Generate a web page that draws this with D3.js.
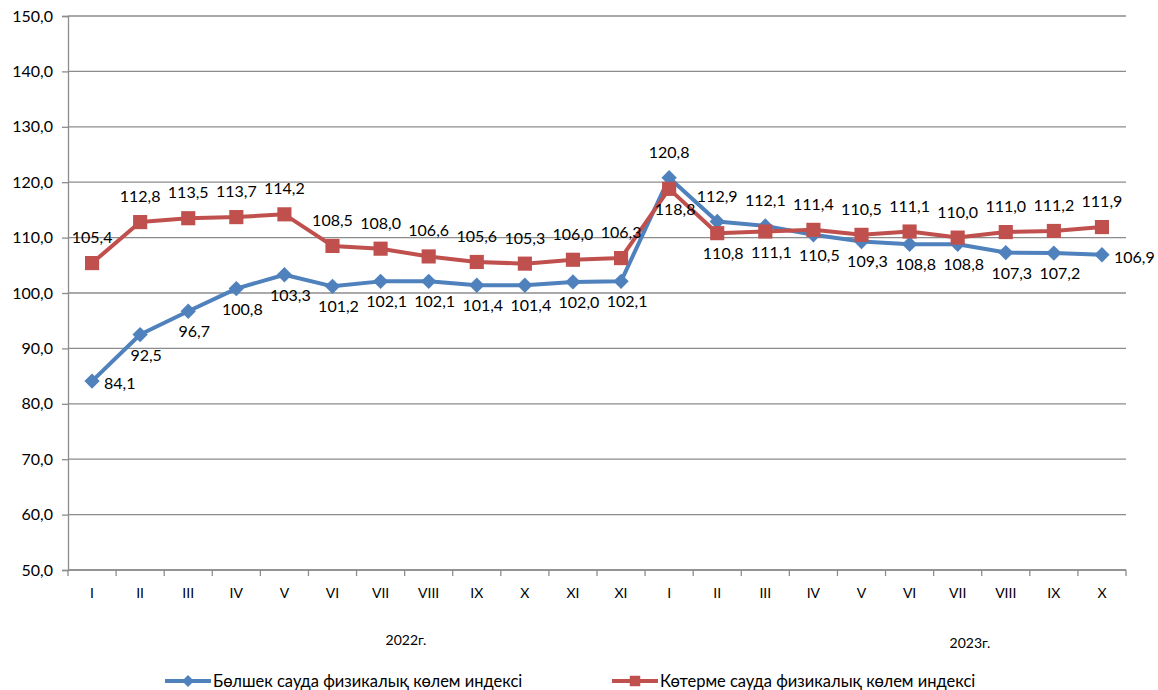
<!DOCTYPE html>
<html>
<head>
<meta charset="utf-8">
<script src="https://cdn.jsdelivr.net/npm/d3@7"></script>
<style>
  body { margin: 0; background: #fff; }
  text { font-family: Lato, "Open Sans", sans-serif; fill: #000; }
</style>
</head>
<body>
<div id="chart"></div>
<script>
// months, 2022 then 2023 (the source repeats "XI" for December)
const months = ["I","II","III","IV","V","VI","VII","VIII","IX","X","XI","XI",
                "I","II","III","IV","V","VI","VII","VIII","IX","X"];
const retail = [84.1,92.5,96.7,100.8,103.3,101.2,102.1,102.1,101.4,101.4,102.0,102.1,
                120.8,112.9,112.1,110.5,109.3,108.8,108.8,107.3,107.2,106.9];
const wholesale = [105.4,112.8,113.5,113.7,114.2,108.5,108.0,106.6,105.6,105.3,106.0,106.3,
                   118.8,110.8,111.1,111.4,110.5,111.1,110.0,111.0,111.2,111.9];
const yTicks = [50,60,70,80,90,100,110,120,130,140,150];
const years = ["2022г.", "2023г."];
const seriesNames = ["Бөлшек сауда физикалық көлем индексі", "Көтерме сауда физикалық көлем индексі"];

const W = 1158, H = 690;
const plotL = 68, plotR = 1126, plotT = 16, plotB = 570;
const blue = "#4F81BD", red = "#C0504D", grid = "#8c8c8c";
const fmt = v => v.toFixed(1).replace(".", ",");

const svg = d3.select("#chart").append("svg")
    .attr("width", W).attr("height", H);

const x = d3.scaleBand().domain(d3.range(months.length)).range([plotL, plotR]);
const y = d3.scaleLinear().domain([50, 150]).range([plotB, plotT]);
const cx = i => x(i) + x.bandwidth() / 2;
const last = months.length - 1;

//gridlines
svg.append("g").selectAll("line").data(yTicks).join("line")
    .attr("x1", plotL).attr("x2", plotR)
    .attr("y1", d => y(d)).attr("y2", d => y(d))
    .attr("stroke", grid).attr("stroke-width", 1.3);

//y axis
const yAxis = svg.append("g").attr("transform", `translate(${plotL},0)`)
    .call(d3.axisLeft(y).tickValues(yTicks).tickSize(6).tickPadding(9).tickFormat(fmt));
yAxis.select(".domain").attr("stroke", grid).attr("stroke-width", 1.3);
yAxis.selectAll(".tick line").attr("stroke", grid).attr("stroke-width", 1.3);
yAxis.selectAll("text").attr("font-size", 16).attr("font-family", "Lato, sans-serif");

//x axis: ticks at band edges
const xAxis = svg.append("g").attr("transform", `translate(0,${plotB})`);
xAxis.append("line").attr("x1", plotL).attr("x2", plotR)
    .attr("stroke", grid).attr("stroke-width", 1.3);
xAxis.selectAll(".edge").data(d3.range(months.length + 1)).join("line")
    .attr("class", "edge")
    .attr("x1", i => plotL + i * x.bandwidth()).attr("x2", i => plotL + i * x.bandwidth())
    .attr("y1", 0).attr("y2", 6)
    .attr("stroke", grid).attr("stroke-width", 1.3);
xAxis.selectAll("text").data(months).join("text")
    .attr("x", (d, i) => cx(i)).attr("y", 28)
    .attr("text-anchor", "middle").attr("font-size", 14)
    .text(d => d);

//year labels
svg.append("text").attr("x", 406).attr("y", 645).attr("text-anchor", "middle")
    .attr("font-size", 14).text(years[0]);
svg.append("text").attr("x", 970).attr("y", 648).attr("text-anchor", "middle")
    .attr("font-size", 14).text(years[1]);

const line = d3.line().x((d, i) => cx(i)).y(d => y(d));
const diamond = d3.symbol().type(d3.symbolDiamond2).size(150);
const square = d3.symbol().type(d3.symbolSquare).size(200);

const series = [
    { vals: retail, other: wholesale, color: blue, sym: diamond },
    { vals: wholesale, other: retail, color: red, sym: square }
];

series.forEach(s => {
    svg.append("path").datum(s.vals)
        .attr("d", line).attr("fill", "none")
        .attr("stroke", s.color).attr("stroke-width", 4)
        .attr("stroke-linejoin", "round");
    svg.append("g").selectAll("path").data(s.vals).join("path")
        .attr("transform", (d, i) => `translate(${cx(i)},${y(d)})`)
        .attr("d", s.sym).attr("fill", s.color);
});

//labels: higher series above its point, lower one below (ends of lower one go right)
series.forEach(s => {
    const pos = (d, i) => d >= s.other[i] ? "above" : (i === 0 || i === last) ? "right" : "below";
    svg.append("g").selectAll("text").data(s.vals).join("text")
        .attr("x", (d, i) => {
            const p = pos(d, i);
            return cx(i) + (p === "above" ? 0 : p === "right" ? 12 : 6);
        })
        .attr("y", (d, i) => {
            const p = pos(d, i);
            return y(d) + (p === "above" ? -20 : p === "right" ? 8 : 26);
        })
        .attr("text-anchor", (d, i) => pos(d, i) === "right" ? "start" : "middle")
        .attr("font-size", 16)
        .text(fmt);
});

//legend
const legend = svg.append("g");
[[165, 0], [612, 1]].forEach(([lx, k]) => {
    const s = series[k];
    legend.append("line").attr("x1", lx).attr("x2", lx + 46)
        .attr("y1", 681).attr("y2", 681)
        .attr("stroke", s.color).attr("stroke-width", 4);
    legend.append("path").attr("transform", `translate(${lx + 23},681)`)
        .attr("d", k === 0 ? d3.symbol().type(d3.symbolDiamond2).size(90) : d3.symbol().type(d3.symbolSquare).size(110))
        .attr("fill", s.color);
    legend.append("text").attr("x", lx + 48).attr("y", 687)
        .attr("font-size", 16.5).text(seriesNames[k]);
});
</script>
</body>
</html>
